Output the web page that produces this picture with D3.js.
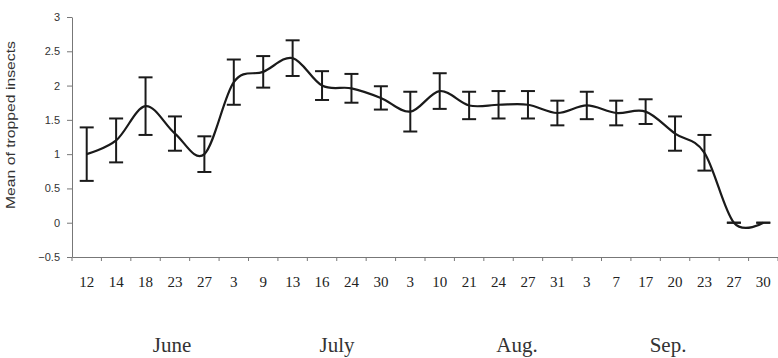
<!DOCTYPE html>
<html>
<head>
<meta charset="utf-8">
<script src="https://cdn.jsdelivr.net/npm/d3@7"></script>
<style>
    body { margin: 0; background: #fff; }
    svg { display: block; }
    .axis path, .axis line { stroke: #777; stroke-width: 1px; }
    .axis.y text { font-family: 'Liberation Sans', Arial, sans-serif; font-size: 11px; fill: #333; }
    .axis.x text { font-family: 'Liberation Serif', 'Times New Roman', serif; font-size: 15px; fill: #222; }
</style>
</head>
<body>
<svg id="chart"></svg>
<script>
// Sampling dates (day of month), June to September.
const dayLabels = ['12', '14', '18', '23', '27', '3', '9', '13', '16', '24', '30', '3',
    '10', '21', '24', '27', '31', '3', '7', '17', '20', '23', '27', '30'];

// Mean of trapped insects per date.
const meanValues = [1.0, 1.2, 1.7, 1.3, 1.0, 2.05, 2.2, 2.4, 2.0, 1.96, 1.82, 1.62,
    1.92, 1.71, 1.72, 1.72, 1.6, 1.71, 1.6, 1.62, 1.3, 1.02, 0, 0];

// Error bar half-lengths.
const errorValues = [0.39, 0.32, 0.42, 0.25, 0.26, 0.33, 0.23, 0.26, 0.21, 0.21, 0.17, 0.29,
    0.26, 0.2, 0.2, 0.2, 0.18, 0.2, 0.18, 0.18, 0.25, 0.26, 0, 0];

const yTicks = [-0.5, 0, 0.5, 1, 1.5, 2, 2.5, 3];
const months = ['June', 'July', 'Aug.', 'Sep.'];

const width = 778;
const height = 358;
const marginLeft = 72;
const marginRight = 0;
const plotTop = 17;
const plotBottom = 257;

const svg = d3.select('#chart').attr('width', width).attr('height', height);

// X scale (one band per sampling date).
const x = d3
    .scaleBand()
    .domain(d3.range(dayLabels.length))
    .range([marginLeft, width - marginRight]);

const cx = i => x(i) + x.bandwidth() / 2;

// Y scale.
const y = d3.scaleLinear().domain([-0.5, 3]).range([plotBottom, plotTop]);

// Y axis.
svg.append('g')
    .attr('class', 'axis y')
    .attr('transform', `translate(${marginLeft}, 0)`)
    .call(d3.axisLeft(y).tickValues(yTicks).tickSize(5).tickSizeOuter(0).tickPadding(7).tickFormat(d3.format('')));

// X axis: labels at band centres, ticks at band edges.
const xAxis = svg.append('g')
    .attr('class', 'axis x')
    .attr('transform', `translate(0, ${plotBottom})`)
    .call(d3.axisBottom(x).tickSize(0).tickSizeOuter(0).tickPadding(19).tickFormat(i => dayLabels[i]));

xAxis.selectAll('.tick-edge')
    .data(d3.range(dayLabels.length + 1))
    .enter()
    .append('line')
    .attr('class', 'tick-edge')
    .attr('x1', i => (i < dayLabels.length ? x(i) : x.range()[1]))
    .attr('x2', i => (i < dayLabels.length ? x(i) : x.range()[1]))
    .attr('y1', 0)
    .attr('y2', 4);

// Y axis title.
svg.append('text')
    .attr('transform', `translate(15, 125) rotate(-90)`)
    .attr('text-anchor', 'middle')
    .attr('textLength', 168)
    .attr('lengthAdjust', 'spacingAndGlyphs')
    .style('font-family', "'Liberation Sans', Arial, sans-serif")
    .style('font-size', '12.5px')
    .style('fill', '#333')
    .text('Mean of tropped insects');

// Month labels.
const monthX = [172, 337, 517, 668];
svg.append('g')
    .selectAll('text')
    .data(months)
    .enter()
    .append('text')
    .attr('x', (d, i) => monthX[i])
    .attr('y', 352)
    .attr('text-anchor', 'middle')
    .style('font-family', "'Liberation Serif', 'Times New Roman', serif")
    .style('font-size', '21px')
    .style('fill', '#333')
    .text(d => d);

// Error bars.
const capHalf = 7;
const bars = svg.append('g')
    .attr('stroke', '#1a1a1a')
    .attr('stroke-width', 2)
    .selectAll('g')
    .data(d3.range(meanValues.length))
    .enter()
    .append('g');

bars.append('line')
    .attr('x1', cx)
    .attr('x2', cx)
    .attr('y1', i => y(meanValues[i] + errorValues[i]))
    .attr('y2', i => y(meanValues[i] - errorValues[i]));

bars.append('line')
    .attr('x1', i => cx(i) - capHalf)
    .attr('x2', i => cx(i) + capHalf)
    .attr('y1', i => y(meanValues[i] + errorValues[i]))
    .attr('y2', i => y(meanValues[i] + errorValues[i]));

bars.append('line')
    .attr('x1', i => cx(i) - capHalf)
    .attr('x2', i => cx(i) + capHalf)
    .attr('y1', i => y(meanValues[i] - errorValues[i]))
    .attr('y2', i => y(meanValues[i] - errorValues[i]));

// Smoothed mean line.
const line = d3
    .line()
    .x(i => cx(i))
    .y(i => y(meanValues[i]))
    .curve(d3.curveCardinal.tension(0));

svg.append('path')
    .datum(d3.range(meanValues.length))
    .attr('fill', 'none')
    .attr('stroke', '#1a1a1a')
    .attr('stroke-width', 2.2)
    .attr('d', line);
</script>
</body>
</html>
